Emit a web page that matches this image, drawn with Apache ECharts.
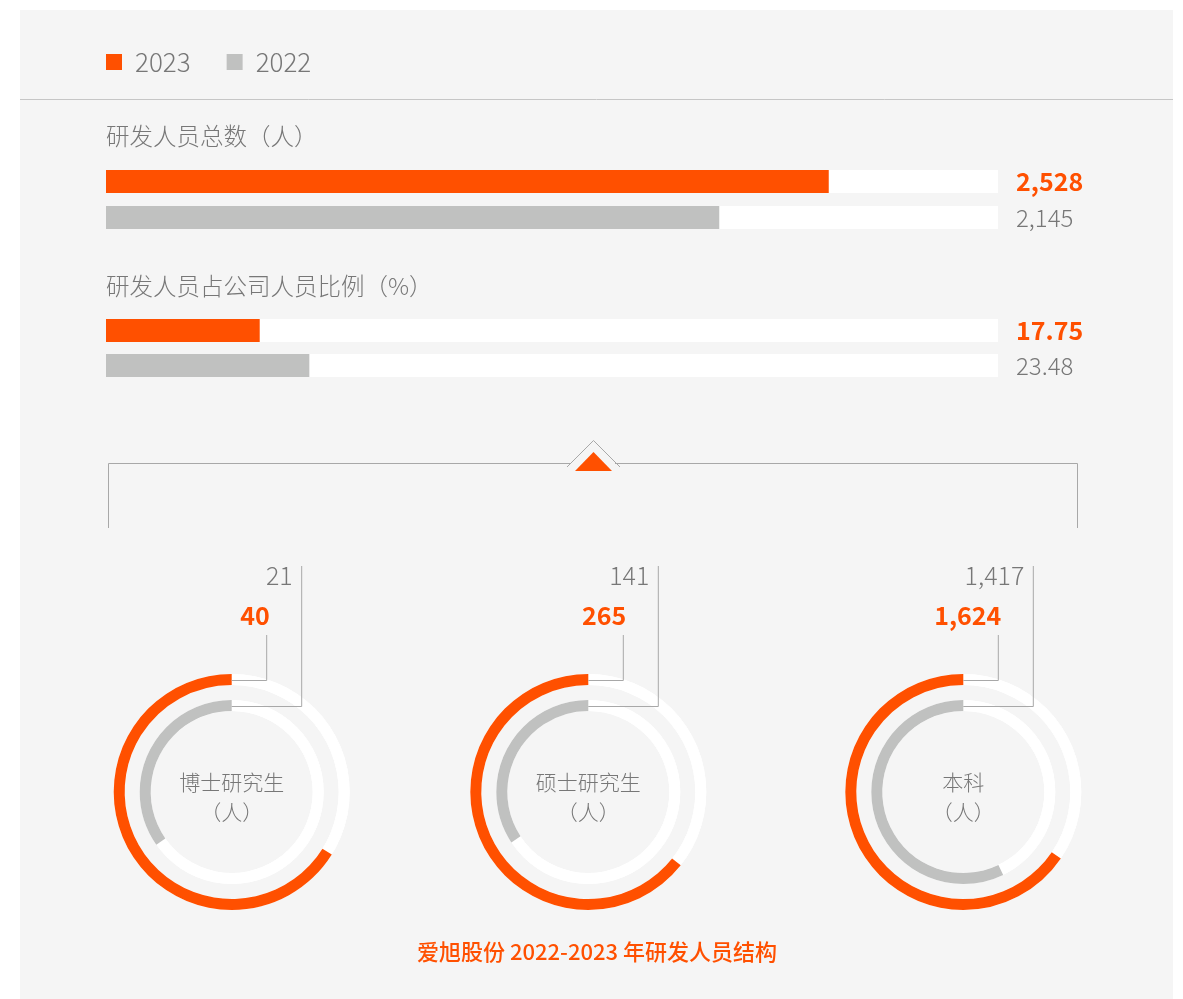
<!DOCTYPE html>
<html>
<head>
<meta charset="utf-8">
<title>爱旭股份 2022-2023 年研发人员结构</title>
<script src="https://cdn.jsdelivr.net/npm/echarts@6/dist/echarts.min.js"></script>
<style>
    html, body { margin: 0; padding: 0; background: #fff; }
    #main { width: 1183px; height: 999px; }
</style>
</head>
<body>
<div id="main"></div>
<script>
// data
const years = ['2023', '2022']
const barTitles = ['研发人员总数（人）', '研发人员占公司人员比例（%）']
const headcount = [2528, 2145]   // 2023, 2022
const ratio = [17.75, 23.48]     // 2023, 2022
const barMax = [3120, 103]

const ringNames = ['博士研究生', '硕士研究生', '本科']
const ring2023 = [40, 265, 1624]
const ring2022 = [21, 141, 1417]
const ringMax = [60.5, 412, 2480]
const caption = '爱旭股份 2022-2023 年研发人员结构'

const ORANGE = '#ff5000'
const GRAY = '#c0c1c0'
const TEXT = '#777'
const LINE = '#a8a8a8'
const FONT = '"Noto Sans CJK SC", "Noto Sans", sans-serif'

// layout
const barGrids = [{ top: 163.5, height: 72 }, { top: 313, height: 70 }]
const ringCx = [231.7, 588.3, 963.3]
const ringCy = 792

const fmtInt = v => v.toLocaleString('en-US')
const fmtPct = v => v.toFixed(2)
const barValues = [headcount, ratio]
const barFmt = [fmtInt, fmtPct]

let myChart = echarts.init(document.getElementById('main'))

const grid = [], xAxis = [], yAxis = [], series = []
barGrids.forEach((g, i) => {
    grid.push({ left: 106, width: 892, top: g.top, height: g.height, outerBoundsMode: 'none' })
    xAxis.push({ gridIndex: i, type: 'value', min: 0, max: barMax[i], show: false })
    yAxis.push({ gridIndex: i, type: 'category', data: years, inverse: true, show: false })
    yAxis.push({
        gridIndex: i,
        type: 'category',
        position: 'right',
        inverse: true,
        data: barValues[i].map(barFmt[i]),
        axisLine: { show: false },
        axisTick: { show: false },
        axisLabel: {
            margin: 18,
            fontFamily: FONT,
            formatter: (v, idx) => idx === 0 ? '{a|' + v + '}' : '{b|' + v + '}',
            rich: {
                a: { color: ORANGE, fontSize: 25, fontWeight: 600, fontFamily: FONT },
                b: { color: TEXT, fontSize: 24, fontWeight: 300, fontFamily: FONT }
            }
        }
    })
    const common = {
        type: 'bar', xAxisIndex: i, yAxisIndex: i * 2, barWidth: 23, barGap: '-100%',
        showBackground: true, backgroundStyle: { color: '#fff' }, silent: true
    }
    series.push(Object.assign({ name: '2023', data: [barValues[i][0], '-'], itemStyle: { color: ORANGE } }, common))
    series.push(Object.assign({ name: '2022', data: ['-', barValues[i][1]], itemStyle: { color: GRAY } }, common))
})

const polar = [], angleAxis = [], radiusAxis = []
const graphic = [
    { type: 'rect', z: -10, shape: { x: 20, y: 10, width: 1153, height: 989 }, style: { fill: '#f5f5f5' } },
    { type: 'line', z: 10, shape: { x1: 20, y1: 99.5, x2: 1173, y2: 99.5 }, style: { stroke: '#c6c6c6', lineWidth: 1 } },
    { type: 'polyline', z: 10, shape: { points: [[108.5, 528], [108.5, 463.5], [571, 463.5]] }, style: { stroke: LINE, fill: null, lineWidth: 1 } },
    { type: 'polyline', z: 10, shape: { points: [[615, 463.5], [1077.5, 463.5], [1077.5, 528]] }, style: { stroke: LINE, fill: null, lineWidth: 1 } },
    { type: 'polyline', z: 10, shape: { points: [[567, 467], [593.5, 440.5], [620, 467]] }, style: { stroke: LINE, fill: null, lineWidth: 1 } },
    { type: 'polygon', z: 10, shape: { points: [[575, 471], [593.5, 452], [612, 471]] }, style: { fill: ORANGE } },
    {
        type: 'text', z: 10, x: 597, y: 952,
        style: { text: caption, fill: ORANGE, fontSize: 22, fontWeight: 500, fontFamily: FONT, align: 'center', textAlign: 'center', verticalAlign: 'middle', textVerticalAlign: 'middle' }
    }
]
barTitles.forEach((t, i) => {
    graphic.push({
        type: 'text', z: 10, x: 106, y: [136, 286][i],
        style: { text: t, fill: TEXT, fontSize: 23.5, fontWeight: 300, fontFamily: FONT, align: 'left', textAlign: 'left', verticalAlign: 'middle', textVerticalAlign: 'middle' }
    })
})

ringNames.forEach((name, i) => {
    const cx = ringCx[i]
    polar.push({ center: [cx, ringCy], radius: [73.5, 125.5] })
    angleAxis.push({
        polarIndex: i, type: 'value', min: 0, max: ringMax[i], startAngle: 90, clockwise: false,
        show: false, axisLine: { show: false }, splitLine: { show: false }, axisLabel: { show: false }, axisTick: { show: false }
    })
    radiusAxis.push({
        polarIndex: i, type: 'category', data: ['2022', '2023'],
        show: false, axisLine: { show: false }, splitLine: { show: false }, axisLabel: { show: false }, axisTick: { show: false }
    })
    const common = {
        type: 'bar', coordinateSystem: 'polar', polarIndex: i, barWidth: 11, barGap: '-100%',
        showBackground: true, backgroundStyle: { color: '#fff' }, silent: true
    }
    series.push(Object.assign({ name: '2023', data: ['-', ring2023[i]], itemStyle: { color: ORANGE } }, common))
    series.push(Object.assign({ name: '2022', data: [ring2022[i], '-'], itemStyle: { color: GRAY } }, common))

    // leader lines
    graphic.push({ type: 'polyline', z: 100, shape: { points: [[cx, 680.5], [cx + 35, 680.5], [cx + 35, 635]] }, style: { stroke: LINE, fill: null, lineWidth: 1 } })
    graphic.push({ type: 'polyline', z: 100, shape: { points: [[cx, 706.5], [cx + 70, 706.5], [cx + 70, 566]] }, style: { stroke: LINE, fill: null, lineWidth: 1 } })
    graphic.push({
        type: 'text', z: 100, x: cx + 38, y: 615,
        style: { text: fmtInt(ring2023[i]), fill: ORANGE, fontSize: 25, fontWeight: 600, fontFamily: FONT, align: 'right', textAlign: 'right', verticalAlign: 'middle', textVerticalAlign: 'middle' }
    })
    graphic.push({
        type: 'text', z: 100, x: cx + 61, y: 575,
        style: { text: fmtInt(ring2022[i]), fill: TEXT, fontSize: 25, fontWeight: 300, fontFamily: FONT, align: 'right', textAlign: 'right', verticalAlign: 'middle', textVerticalAlign: 'middle' }
    })
    // center name
    graphic.push({
        type: 'text', z: 100, x: cx, y: 797,
        style: { text: name + '\n（人）', fill: TEXT, fontSize: 21, fontWeight: 300, lineHeight: 30, fontFamily: FONT, align: 'center', textAlign: 'center', verticalAlign: 'middle', textVerticalAlign: 'middle' }
    })
})

myChart.setOption({
    backgroundColor: '#fff',
    animation: false,
    legend: {
        data: years,
        left: 106,
        top: 49,
        padding: 0,
        icon: 'rect',
        itemWidth: 16,
        itemHeight: 16,
        itemGap: 36,
        selectedMode: false,
        textStyle: { fontSize: 26, color: TEXT, fontWeight: 300, fontFamily: FONT, padding: [0, 0, 0, 8] }
    },
    grid, xAxis, yAxis,
    polar, angleAxis, radiusAxis,
    graphic,
    series
})
</script>
</body>
</html>
